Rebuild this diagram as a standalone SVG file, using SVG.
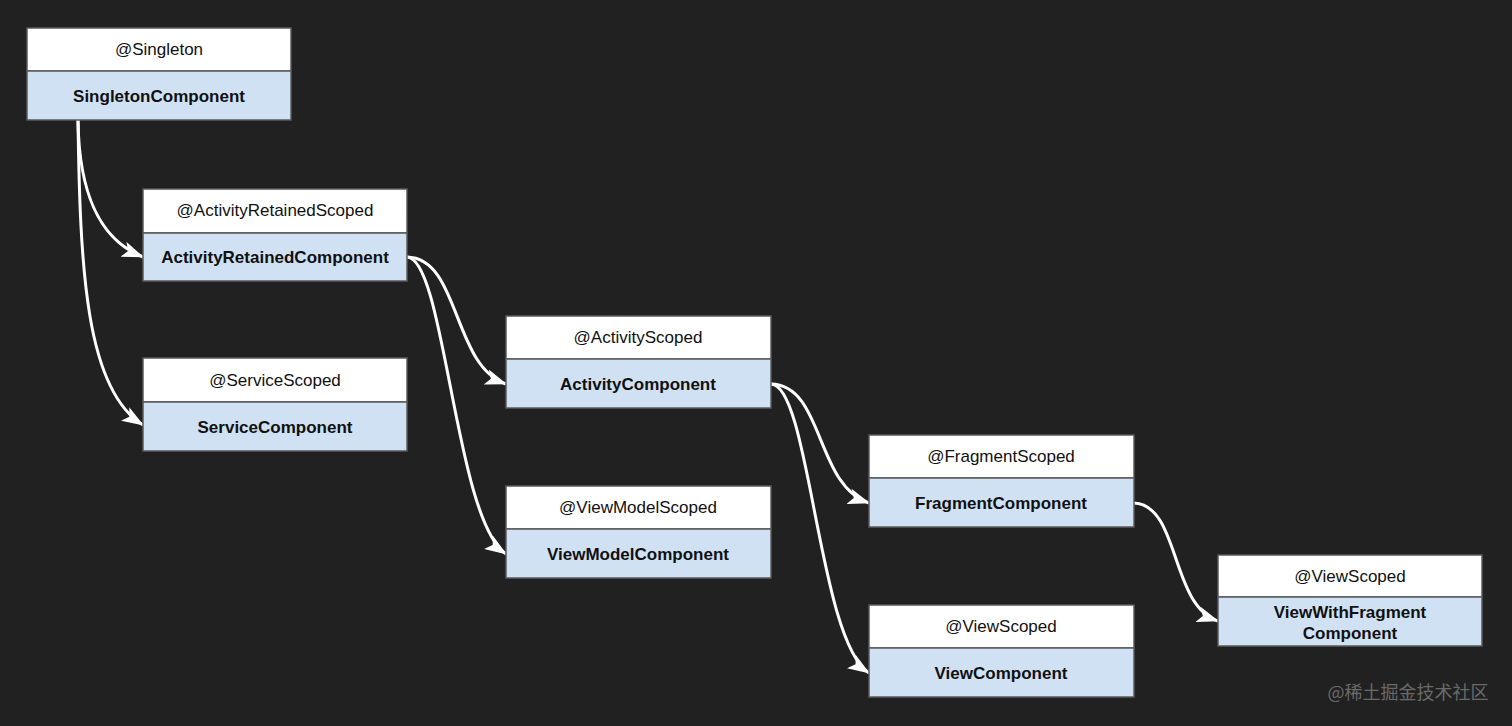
<svg xmlns="http://www.w3.org/2000/svg" width="1512" height="726" viewBox="0 0 1512 726">
<defs>
<style>
.hd{fill:#ffffff;stroke:#5a5a5a;stroke-width:1.5}
.bd{fill:#d0e1f3;stroke:#5a5a5a;stroke-width:1.5}
.ht{font-family:"Liberation Sans",Arial,sans-serif;font-size:17px;fill:#111;text-anchor:middle}
.bt{font-family:"Liberation Sans",Arial,sans-serif;font-size:17px;font-weight:bold;fill:#111;text-anchor:middle}
.e{fill:none;stroke:#ffffff;stroke-width:3;marker-end:url(#ah)}
</style>
<marker id="ah" viewBox="0 0 22 16" refX="21" refY="8" markerWidth="22" markerHeight="16" markerUnits="userSpaceOnUse" orient="auto">
<path d="M0,0 L22,8 L0,16 L5,8 Z" fill="#ffffff"/>
</marker>
</defs>
<rect width="1512" height="726" fill="#212121"/>
<g id="connectors">
<path class="e" d="M78,120 C79,195 100,240 143,257"/>
<path class="e" d="M78,120 C80,270 86,390 143,425"/>
<path class="e" d="M407,257 C460,258 452,365 506,384"/>
<path class="e" d="M407,257 C445,258 455,520 506,554"/>
<path class="e" d="M771,384 C824,385 815,485 869,503"/>
<path class="e" d="M771,384 C810,385 818,640 869,673"/>
<path class="e" d="M1134,503 C1180,505 1170,605 1218,621"/>
</g>
<g id="singleton">
<rect class="hd" x="27" y="28" width="264" height="43"/>
<rect class="bd" x="27" y="71" width="264" height="49"/>
<text class="ht" x="159" y="55">@Singleton</text>
<text class="bt" x="159" y="102">SingletonComponent</text>
</g>
<g id="activityRetained">
<rect class="hd" x="143" y="189" width="264" height="44"/>
<rect class="bd" x="143" y="233" width="264" height="48"/>
<text class="ht" x="275" y="216">@ActivityRetainedScoped</text>
<text class="bt" x="275" y="263">ActivityRetainedComponent</text>
</g>
<g id="service">
<rect class="hd" x="143" y="358" width="264" height="44"/>
<rect class="bd" x="143" y="402" width="264" height="49"/>
<text class="ht" x="275" y="386">@ServiceScoped</text>
<text class="bt" x="275" y="433">ServiceComponent</text>
</g>
<g id="activity">
<rect class="hd" x="506" y="316" width="265" height="43"/>
<rect class="bd" x="506" y="359" width="265" height="49"/>
<text class="ht" x="638" y="343">@ActivityScoped</text>
<text class="bt" x="638" y="390">ActivityComponent</text>
</g>
<g id="viewModel">
<rect class="hd" x="506" y="486" width="265" height="43"/>
<rect class="bd" x="506" y="529" width="265" height="49"/>
<text class="ht" x="638" y="513">@ViewModelScoped</text>
<text class="bt" x="638" y="560">ViewModelComponent</text>
</g>
<g id="fragment">
<rect class="hd" x="869" y="435" width="265" height="43"/>
<rect class="bd" x="869" y="478" width="265" height="49"/>
<text class="ht" x="1001" y="462">@FragmentScoped</text>
<text class="bt" x="1001" y="509">FragmentComponent</text>
</g>
<g id="view">
<rect class="hd" x="869" y="605" width="265" height="43"/>
<rect class="bd" x="869" y="648" width="265" height="49"/>
<text class="ht" x="1001" y="632">@ViewScoped</text>
<text class="bt" x="1001" y="679">ViewComponent</text>
</g>
<g id="viewWithFragment">
<rect class="hd" x="1218" y="555" width="264" height="42"/>
<rect class="bd" x="1218" y="597" width="264" height="49"/>
<text class="ht" x="1350" y="582">@ViewScoped</text>
<text class="bt" x="1350" y="618">ViewWithFragment</text>
<text class="bt" x="1350" y="639">Component</text>
</g>
<text x="1408" y="699" style="font-family:'Noto Sans CJK SC',sans-serif;font-size:18px;fill:#6a6a6a;text-anchor:middle">@稀土掘金技术社区</text>
</svg>
